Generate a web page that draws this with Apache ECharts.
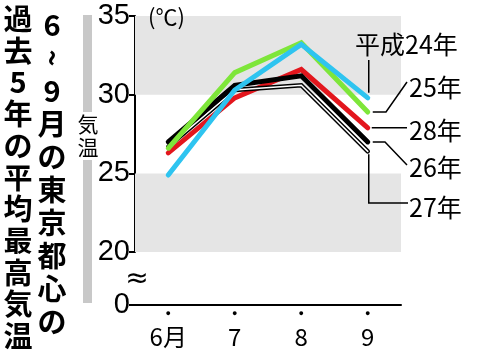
<!DOCTYPE html>
<html>
<head>
<meta charset="utf-8">
<script src="https://cdn.jsdelivr.net/npm/echarts@6/dist/echarts.min.js"></script>
<style>
html, body { margin: 0; padding: 0; background: #fff; }
#chart { width: 480px; height: 352px; }
</style>
</head>
<body>
<div id="chart"></div>
<script>
const months = ['6月', '7', '8', '9']
const h24 = [24.9, 30.3, 33.2, 29.8]
const h25 = [26.6, 31.4, 33.3, 28.9]
const h26 = [27.0, 30.6, 31.2, 27.0]
const h27 = [26.7, 30.3, 30.6, 26.4]
const h28 = [26.3, 29.8, 31.6, 27.9]
const bands = [[20, 25], [30, 35]]
const titleRight = ['6', '~', '9', '月', 'の', '東', '京', '都', '心', 'の']
const titleLeft = ['過', '去', '5', '年', 'の', '平', '均', '最', '高', '気', '温']

const jp = '"Noto Sans CJK JP", sans-serif'
const num = '"Liberation Sans Narrow", "Liberation Sans", sans-serif'

const chart = echarts.init(document.getElementById('chart'), null, { renderer: 'canvas' })

const lineSeries = (name, data, color, width, z) => ({
  name,
  type: 'line',
  data,
  z,
  symbol: 'none',
  silent: true,
  animation: false,
  lineStyle: { color, width, join: 'miter', cap: 'round' }
})

const txt = (text, x, y, font, align, extra) => Object.assign({
  type: 'text', x, y, z: 100,
  style: { text, font, fill: '#000', align: align || 'center', verticalAlign: 'middle' }
}, extra || {})

const titleGraphics = () => {
  const out = []
  titleRight.forEach((c, i) => {
    out.push(txt(c, 52, 25 + i * 33, 'bold 29px ' + jp, 'center', c === '~' ? { rotation: -Math.PI / 2 } : null))
  })
  titleLeft.forEach((c, i) => {
    out.push(txt(c, 18, 19 + i * 31.7, 'bold 29px ' + jp))
  })
  // gray side bar with the axis name
  out.push({ type: 'rect', z: 100, shape: { x: 83, y: 15, width: 9, height: 288 }, style: { fill: '#c8c8c8' } })
  out.push({ type: 'rect', z: 100, shape: { x: 76, y: 112, width: 24, height: 48 }, style: { fill: '#fff' } })
  out.push(txt('気', 88, 124, '21px ' + jp))
  out.push(txt('温', 88, 147, '21px ' + jp))
  out.push(txt('(℃)', 148, 17, '22px ' + jp, 'left'))
  // axis break mark
  out.push({ type: 'rect', z: 110, shape: { x: 127, y: 272, width: 21, height: 17 }, style: { fill: '#fff' } })
  out.push(txt('≈', 137, 280, '28px "DejaVu Sans"', 'center', { z: 111 }))
  return out
}

const option = {
  backgroundColor: '#fff',
  animation: false,
  grid: { left: 135, top: 16, width: 266, height: 289, containLabel: false },
  xAxis: {
    type: 'category',
    data: months,
    boundaryGap: true,
    axisLine: { lineStyle: { color: '#000', width: 2 } },
    axisTick: { show: false },
    axisLabel: {
      margin: 4,
      formatter: v => '{d|●}\n{t|' + v + '}',
      rich: {
        d: { fontSize: 9, lineHeight: 10, color: '#000' },
        t: { fontSize: 24, lineHeight: 36, color: '#000', fontFamily: jp }
      }
    }
  },
  yAxis: {
    type: 'value',
    min: 0,
    max: 35,
    interval: 5,
    breaks: [{ start: 0, end: 20, gap: '18.3%' }],
    breakArea: { show: false },
    axisLine: { show: true, lineStyle: { color: '#000', width: 2 } },
    axisTick: { show: true, length: 6, lineStyle: { color: '#000', width: 2 } },
    splitLine: { show: false },
    axisLabel: { color: '#000', fontSize: 29, fontFamily: num, margin: 5 }
  },
  series: [
    Object.assign(lineSeries('28年', h28, '#e3161d', 5, 2), {
      markArea: {
        silent: true,
        itemStyle: { color: '#e5e5e5' },
        data: bands.map(b => [{ yAxis: b[0] }, { yAxis: b[1] }])
      }
    }),
    lineSeries('27年', h27, '#000', 4.5, 3),
    lineSeries('27年内', h27, '#fff', 1.5, 3),
    lineSeries('26年', h26, '#000', 5, 4),
    lineSeries('25年', h25, '#7ee63a', 5, 5),
    lineSeries('平成24年', h24, '#2ec4f0', 5, 6)
  ],
  graphic: titleGraphics()
}
chart.setOption(option)

// end labels with leader lines, anchored to the last point of each line
const endPt = (idx, data) => chart.convertToPixel({ seriesIndex: idx }, [3, data[3]])
const lbl = (text, x, y) => txt(text, x, y, '25px ' + jp, 'left')
const leader = pts => ({ type: 'polyline', z: 100, shape: { points: pts }, style: { stroke: '#000', lineWidth: 1.5, fill: null } })

const p24 = endPt(5, h24)
const p25 = endPt(4, h25)
const p26 = endPt(3, h26)
const p27 = endPt(1, h27)
const p28 = endPt(0, h28)

const extra = [
  leader([[p24[0] + 1, p24[1] - 5], [p24[0] + 1, 60]]),
  lbl('平成24年', 355, 44),
  leader([[p25[0] + 5, p25[1]], [386, p25[1]], [407, 82]]),
  lbl('25年', 409, 87),
  leader([[p28[0] + 4, p28[1]], [407, p28[1]]]),
  lbl('28年', 409, 130),
  leader([[p26[0] + 5, p26[1]], [385, p26[1]], [407, 165]]),
  lbl('26年', 409, 167),
  leader([[p27[0] + 1, p27[1] + 3], [p27[0] + 1, 203], [408, 203]]),
  lbl('27年', 409, 207)
]
chart.setOption({ graphic: titleGraphics().concat(extra) })
</script>
</body>
</html>
